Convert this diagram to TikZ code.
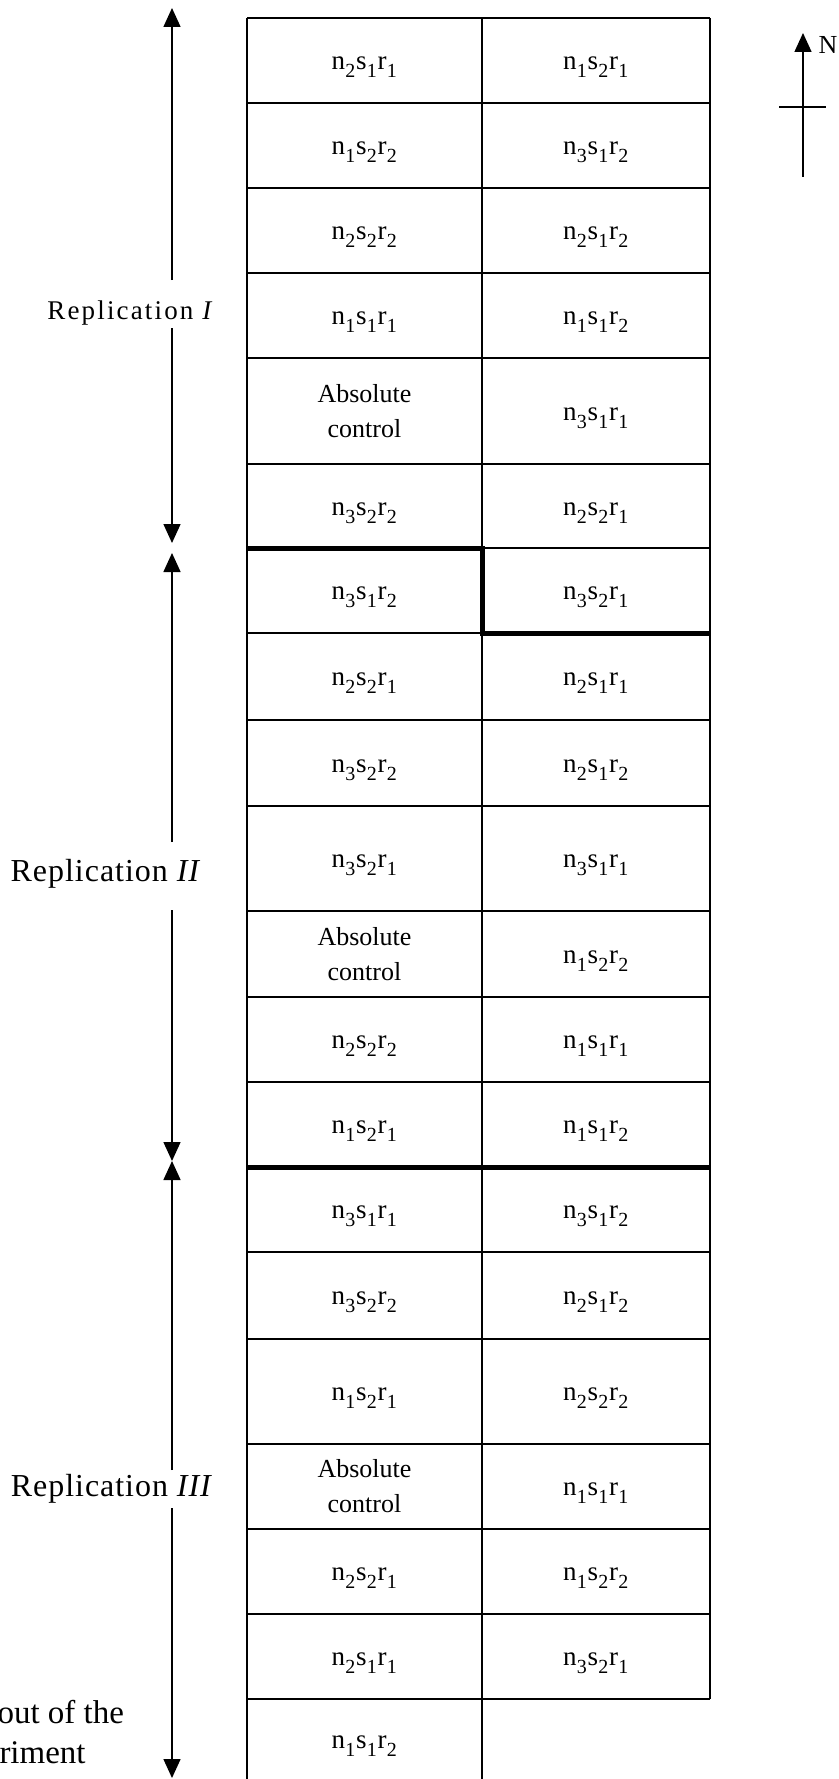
\documentclass[tikz,border=0pt]{standalone}
\usepackage{fontspec}
\setmainfont{Liberation Serif}
\newfontfamily\spacedserif[LetterSpace=8]{Liberation Serif}
\newfontfamily\looseserif[LetterSpace=3]{Liberation Serif}
\usetikzlibrary{arrows.meta}
% treatment code n_a s_b r_c with lowered subscripts
\newcommand\plotsub[1]{\kern0.4pt\raisebox{-0.3em}{\fontsize{20}{20}\selectfont #1}\kern0.6pt}
\newcommand\trt[3]{n\plotsub{#1}s\plotsub{#2}r\plotsub{#3}}
\begin{document}
\begin{tikzpicture}[x=1pt,y=-1pt,
  rule/.style={line width=1.6pt},
  border/.style={line width=5pt},
  plotlbl/.style={font=\fontsize{27}{30}\selectfont, inner sep=0pt},
  ctrl/.style={font=\fontsize{26}{35}\selectfont, align=center, inner sep=0pt},
  replbl/.style={font=\fontsize{32}{38}\looseserif, inner sep=0pt},
  span/.style={line width=1.5pt, -{Triangle[width=17pt,length=19pt]}},
  side/.style={font=\fontsize{33}{40}\selectfont, inner sep=0pt, anchor=base west}]
\useasboundingbox (0,0) rectangle (838,1779);
\clip (0,0) rectangle (838,1779);

% field plots: two columns of strips
\draw[rule] (247,18) -- (710,18);
\draw[rule] (247,18) -- (247,1790);
\draw[rule] (482,18) -- (482,1790);
\draw[rule] (710,18) -- (710,1699);
\foreach \y in {103,188,273,358,464,548,633,720,806,911,997,1082,1167,1252,1339,1444,1529,1614,1699}
  \draw[rule] (247,\y) -- (710,\y);

% boundaries between replications
\draw[border] (247,548) -- (482,548) -- (482,633) -- (710,633);
\draw[border] (247,1167) -- (710,1167);

% left column
\node[plotlbl] (L1)  at (364.5,67)   {\trt211};
\node[plotlbl] (L2)  at (364.5,152)  {\trt122};
\node[plotlbl] (L3)  at (364.5,237)  {\trt222};
\node[plotlbl] (L4)  at (364.5,322)  {\trt111};
\node[ctrl]    (L5)  at (364.5,411)  {Absolute\\control};
\node[plotlbl] (L6)  at (364.5,513)  {\trt322};
\node[plotlbl] (L7)  at (364.5,597)  {\trt312};
\node[plotlbl] (L8)  at (364.5,683)  {\trt221};
\node[plotlbl] (L9)  at (364.5,770)  {\trt322};
\node[plotlbl] (L10) at (364.5,865)  {\trt321};
\node[ctrl]    (L11) at (364.5,954)  {Absolute\\control};
\node[plotlbl] (L12) at (364.5,1046) {\trt222};
\node[plotlbl] (L13) at (364.5,1131) {\trt121};
\node[plotlbl] (L14) at (364.5,1216) {\trt311};
\node[plotlbl] (L15) at (364.5,1302) {\trt322};
\node[plotlbl] (L16) at (364.5,1398) {\trt121};
\node[ctrl]    (L17) at (364.5,1486) {Absolute\\control};
\node[plotlbl] (L18) at (364.5,1578) {\trt221};
\node[plotlbl] (L19) at (364.5,1663) {\trt211};
\node[plotlbl] (L20) at (364.5,1746) {\trt112};

% right column
\node[plotlbl] (R1)  at (596,67)   {\trt121};
\node[plotlbl] (R2)  at (596,152)  {\trt312};
\node[plotlbl] (R3)  at (596,237)  {\trt212};
\node[plotlbl] (R4)  at (596,322)  {\trt112};
\node[plotlbl] (R5)  at (596,418)  {\trt311};
\node[plotlbl] (R6)  at (596,513)  {\trt221};
\node[plotlbl] (R7)  at (596,597)  {\trt321};
\node[plotlbl] (R8)  at (596,683)  {\trt211};
\node[plotlbl] (R9)  at (596,770)  {\trt212};
\node[plotlbl] (R10) at (596,865)  {\trt311};
\node[plotlbl] (R11) at (596,961)  {\trt122};
\node[plotlbl] (R12) at (596,1046) {\trt111};
\node[plotlbl] (R13) at (596,1131) {\trt112};
\node[plotlbl] (R14) at (596,1216) {\trt312};
\node[plotlbl] (R15) at (596,1302) {\trt212};
\node[plotlbl] (R16) at (596,1398) {\trt222};
\node[plotlbl] (R17) at (596,1493) {\trt111};
\node[plotlbl] (R18) at (596,1578) {\trt122};
\node[plotlbl] (R19) at (596,1663) {\trt321};

% replication extents
\node[replbl, font=\fontsize{27}{30}\spacedserif] (rep1) at (131,313) {Replication \textit{I}};
\node[replbl] (rep2) at (106,874)  {Replication \textit{II}};
\node[replbl] (rep3) at (112,1489) {Replication \textit{III}};

\coordinate (a1top) at (172,8);
\coordinate (a1up)  at (172,280);
\coordinate (a1dn)  at (172,328);
\coordinate (a1bot) at (172,543);
\draw[span] (a1up) -- (a1top);
\draw[span] (a1dn) -- (a1bot);

\coordinate (a2top) at (172,553);
\coordinate (a2up)  at (172,842);
\coordinate (a2dn)  at (172,910);
\coordinate (a2bot) at (172,1161);
\draw[span] (a2up) -- (a2top);
\draw[span] (a2dn) -- (a2bot);

\coordinate (a3top) at (172,1161);
\coordinate (a3up)  at (172,1470);
\coordinate (a3dn)  at (172,1508);
\coordinate (a3bot) at (172,1778);
\draw[span] (a3up) -- (a3top);
\draw[span] (a3dn) -- (a3bot);

% title at the lower left
\node[side] (lay1) at (-54,1723) {Layout of the};
\node[side] (lay2) at (-63,1763) {experiment};

% north arrow
\coordinate (nfoot) at (803,177);
\coordinate (ntip)  at (803,33);
\coordinate (cw) at (779,107);
\coordinate (ce) at (826,107);
\draw[span] (nfoot) -- (ntip);
\draw[line width=1.5pt] (cw) -- (ce);
\node[font=\fontsize{26}{30}\selectfont, inner sep=0pt] (north) at (828,45) {N};
\end{tikzpicture}
\end{document}
